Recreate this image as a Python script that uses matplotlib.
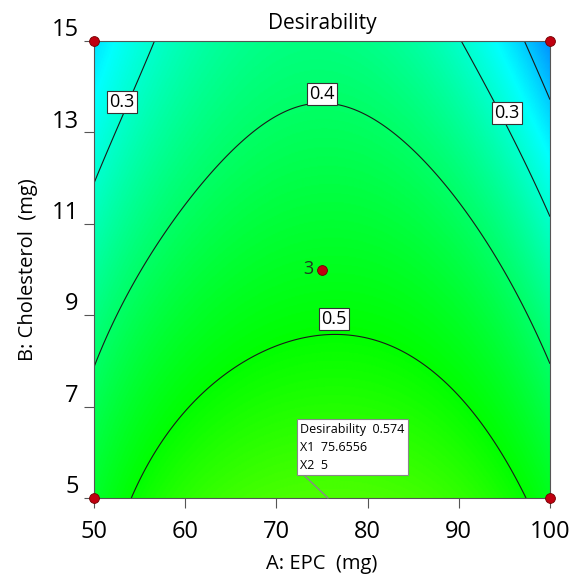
import numpy as np
import matplotlib
matplotlib.use('Agg')
import matplotlib.pyplot as plt
from matplotlib.colors import LinearSegmentedColormap
import matplotlib.transforms as mtransforms

plt.rcParams['font.family'] = ['Open Sans', 'DejaVu Sans']

# Desirability (x = A: EPC, y = B: Cholesterol, d = desirability)
read_x = [75.66, 54.0, 97.4, 74.8, 69.3, 59.4, 81.4, 92.3, 80.3,
          50.0, 100.0, 74.05, 59.4, 69.3, 81.4, 92.3, 85.7,
          56.7, 50.0, 90.4, 100.0, 53.2, 95.6,
          97.6, 100.0, 50.0, 100.0]
read_y = [5.0, 5.0, 5.0, 8.66, 8.46, 6.49, 8.38, 6.71, 8.49,
          7.87, 7.91, 13.6, 11.16, 13.42, 13.05, 10.72, 12.25,
          15.0, 11.87, 15.0, 11.19, 13.56, 13.05,
          15.0, 13.82, 15.0, 15.0]
read_d = [0.574, 0.5, 0.5, 0.5, 0.5, 0.5, 0.5, 0.5, 0.5,
          0.4, 0.4, 0.4, 0.4, 0.4, 0.4, 0.4, 0.4,
          0.3, 0.3, 0.3, 0.3, 0.3, 0.3,
          0.2, 0.2, 0.22, 0.12]
# how sure each reading is (edge crossings and peaks are read best)
read_w = [3, 3, 3, 3, 1, 1, 1, 1, 1,
          3, 3, 3, 1, 1, 1, 1, 1,
          2, 2, 2, 2, 1, 1,
          1, 1, 0.5, 0.5]

contour_levels = [0.2, 0.3, 0.4, 0.5]
label_text = ['0.3', '0.4', '0.3', '0.5']
label_x = [53.1, 75.0, 95.3, 76.3]
label_y = [13.67, 13.84, 13.42, 8.91]

design_x = [50, 100, 50, 100, 75]
design_y = [5, 5, 15, 15, 10]

opt_x, opt_y, opt_d = 75.6556, 5, 0.574
xticks = [50, 60, 70, 80, 90, 100]
yticks = [5, 7, 9, 11, 13, 15]


def terms(x, y):
    a = (np.asarray(x, float) - 75.0) / 25.0
    b = (np.asarray(y, float) - 10.0) / 5.0
    return np.stack([np.ones_like(a), a, b, a * b, a**2, b**2,
                     a**2 * b, a * b**2, a**3, b**3,
                     a**4, a**3 * b, a**2 * b**2, a * b**3, b**4], axis=-1)


# smooth weighted surface fit through the read points
wts = np.sqrt(np.array(read_w, float))
coef, *_ = np.linalg.lstsq(terms(read_x, read_y) * wts[:, None],
                           np.array(read_d) * wts, rcond=None)

gx, gy = np.meshgrid(np.linspace(50, 100, 400), np.linspace(5, 15, 400))
gd = terms(gx, gy) @ coef

cmap = LinearSegmentedColormap.from_list(
    'de', ['#0000ff', '#00ffff', '#00ff00', '#ffff00', '#ff0000'])

fig = plt.figure(figsize=(5.71, 5.74), dpi=100)
ax = fig.add_axes([94 / 571, 1 - 498 / 574, 456 / 571, 457 / 574])

ax.imshow(gd, extent=[50, 100, 5, 15], origin='lower', cmap=cmap,
          vmin=0, vmax=1, aspect='auto', interpolation='bilinear')
ax.contour(gx, gy, gd, levels=contour_levels, colors='#1a1a1a', linewidths=0.8)

for t, lx, ly in zip(label_text, label_x, label_y):
    ax.text(lx, ly, t, ha='center', va='center', fontsize=13, zorder=5,
            bbox=dict(boxstyle='square,pad=0.12', fc='white', ec='#333333', lw=0.8))

ax.scatter(design_x, design_y, s=50, color='#c00010', edgecolor='#700000',
           linewidth=0.6, zorder=6, clip_on=False)
ax.text(74.1, 10, '3', ha='right', va='center', fontsize=13, color='#203a20', zorder=6)

ax.annotate(f'Desirability  {opt_d}\nX1  {opt_x}\nX2  {opt_y}',
            xy=(opt_x, opt_y), xytext=(72.6, 6.65), ha='left', va='top',
            fontsize=9, linespacing=1.5, zorder=7,
            bbox=dict(boxstyle='square,pad=0.28', fc='white', ec='#888888', lw=0.8),
            arrowprops=dict(arrowstyle='-', color='#888888', lw=1.0,
                            relpos=(0.0, 0.0), shrinkA=0, shrinkB=0))

ax.set_xlim(50, 100)
ax.set_ylim(5, 15)
ax.set_xticks(xticks)
ax.set_yticks(yticks)
ax.tick_params(direction='out', length=7, width=0.8, color='#555555',
               labelsize=17, pad=9)
ax.tick_params(axis='y', pad=4)
offset = mtransforms.ScaledTranslation(0, 10 / 72, fig.dpi_scale_trans)
for lab in ax.get_yticklabels():
    lab.set_transform(lab.get_transform() + offset)
for s in ax.spines.values():
    s.set_color('#555555')
    s.set_linewidth(0.8)

ax.set_title('Desirability', fontsize=15, pad=9)
ax.set_xlabel('A: EPC  (mg)', fontsize=14.5, labelpad=7)
ax.set_ylabel('B: Cholesterol  (mg)', fontsize=14.5, labelpad=10)

fig.savefig('out.png', dpi=100)
